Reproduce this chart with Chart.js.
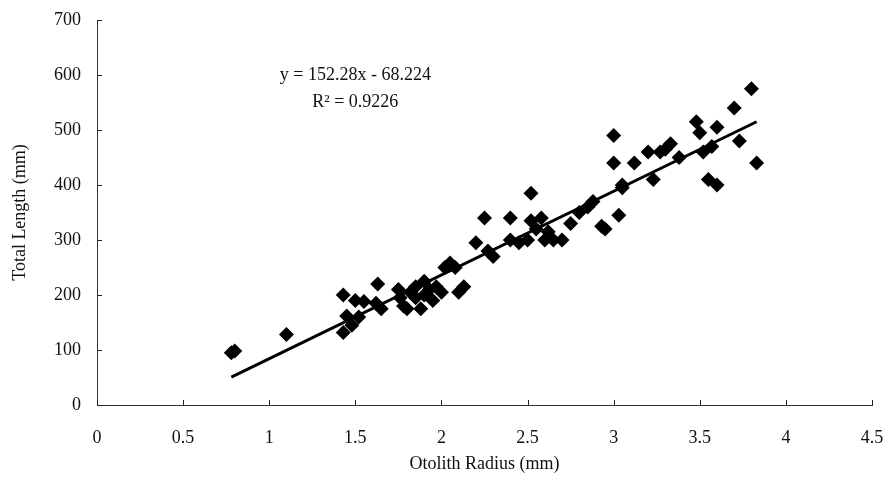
<!DOCTYPE html>
<html>
<head>
<meta charset="utf-8">
<script src="https://cdn.jsdelivr.net/npm/chart.js@4/dist/chart.umd.min.js"></script>
<style>
  html, body { margin: 0; padding: 0; background: #fff; }
  #wrap { width: 889px; height: 482px; }
</style>
</head>
<body>
<div id="wrap"><canvas id="otolithChart" width="889" height="482"></canvas></div>
<script>
// Otolith radius (mm) vs total length (mm)
const radius = [0.78, 0.80, 1.10, 1.43, 1.45, 1.43, 1.48, 1.50, 1.52, 1.55, 1.62, 1.63, 1.65,
    1.75, 1.76, 1.78, 1.80, 1.82, 1.85, 1.85, 1.88, 1.90, 1.90, 1.93, 1.95, 1.97, 2.00,
    2.02, 2.05, 2.10, 2.13, 2.08, 2.20, 2.25, 2.27, 2.30, 2.40, 2.40, 2.45, 2.50, 2.52,
    2.52, 2.55, 2.58, 2.60, 2.62, 2.65, 2.70, 2.75, 2.80, 2.85, 2.88, 2.93, 2.95, 3.00,
    3.00, 3.03, 3.05, 3.05, 3.12, 3.20, 3.23, 3.27, 3.30, 3.33, 3.38, 3.48, 3.50, 3.52,
    3.55, 3.57, 3.60, 3.60, 3.70, 3.73, 3.80, 3.83];
const totalLength = [95, 98, 128, 200, 162, 132, 145, 190, 160, 188, 185, 220, 175,
    210, 195, 180, 175, 205, 215, 195, 175, 225, 200, 210, 190, 215, 205,
    250, 258, 205, 215, 250, 295, 340, 280, 270, 340, 300, 295, 300, 385,
    335, 320, 340, 300, 315, 300, 300, 330, 350, 360, 370, 325, 320, 440,
    490, 345, 395, 400, 440, 460, 410, 460, 465, 475, 450, 515, 495, 460,
    410, 470, 400, 505, 540, 480, 575, 440];

// Linear trend as printed on the figure
const slope = 152.28;
const intercept = -68.224;
const trendX = [0.78, 3.83];
const equationLines = ['y = 152.28x - 68.224', 'R² = 0.9226'];

const xTicks = [0, 0.5, 1, 1.5, 2, 2.5, 3, 3.5, 4, 4.5];
const yTicks = [0, 100, 200, 300, 400, 500, 600, 700];

const points = radius.map((r, i) => ({ x: r, y: totalLength[i] }));
const trend = trendX.map(x => ({ x: x, y: slope * x + intercept }));

const serif = '"Liberation Serif", "DejaVu Serif", serif';

// inward tick marks + equation text
const extras = {
    id: 'extras',
    afterDraw(chart) {
        const ctx = chart.ctx;
        const xs = chart.scales.x, ys = chart.scales.y;
        const area = chart.chartArea;
        ctx.save();
        ctx.strokeStyle = '#222';
        ctx.lineWidth = 1;
        ctx.beginPath();
        xTicks.forEach(v => {
            const px = Math.round(xs.getPixelForValue(v)) + 0.5;
            ctx.moveTo(px, area.bottom);
            ctx.lineTo(px, area.bottom - 5);
        });
        yTicks.forEach(v => {
            const py = Math.round(ys.getPixelForValue(v)) + 0.5;
            ctx.moveTo(area.left, py);
            ctx.lineTo(area.left + 5, py);
        });
        ctx.stroke();

        ctx.fillStyle = '#111';
        ctx.font = '18px ' + serif;
        ctx.textAlign = 'center';
        ctx.textBaseline = 'middle';
        const cx = xs.getPixelForValue(1.5);
        ctx.fillText(equationLines[0], cx, ys.getPixelForValue(600));
        ctx.fillText(equationLines[1], cx, ys.getPixelForValue(550));
        ctx.restore();
    }
};

new Chart(document.getElementById('otolithChart'), {
    type: 'scatter',
    data: {
        datasets: [{
            label: 'Observed',
            data: points,
            pointStyle: 'rectRot',
            pointRadius: 7.5,
            backgroundColor: '#000',
            borderColor: '#000',
            borderWidth: 0
        }, {
            label: 'Linear',
            type: 'line',
            data: trend,
            borderColor: '#000',
            borderWidth: 3,
            pointRadius: 0,
            fill: false
        }]
    },
    options: {
        responsive: false,
        animation: false,
        layout: { padding: { left: 5, right: 17, top: 20, bottom: 3 } },
        plugins: {
            legend: { display: false },
            tooltip: { enabled: false }
        },
        scales: {
            x: {
                type: 'linear',
                min: 0,
                max: 4.5,
                afterBuildTicks: s => { s.ticks = xTicks.map(v => ({ value: v })); },
                afterFit: s => {
                    s.height = 74;
                    s.paddingLeft = 0;
                    s.paddingRight = 0;
                },
                grid: { display: false, drawTicks: false },
                border: { display: true, color: '#333', width: 1 },
                ticks: {
                    color: '#111',
                    font: { family: serif, size: 18 },
                    padding: 22,
                    callback: v => String(v)
                },
                title: {
                    display: true,
                    text: 'Otolith Radius (mm)',
                    color: '#111',
                    font: { family: serif, size: 18 },
                    padding: { top: 10 }
                }
            },
            y: {
                type: 'linear',
                min: 0,
                max: 700,
                afterBuildTicks: s => { s.ticks = yTicks.map(v => ({ value: v })); },
                afterFit: s => {
                    s.width = 92;
                    s.paddingTop = 0;
                    s.paddingBottom = 0;
                },
                grid: { display: false, drawTicks: false },
                border: { display: true, color: '#333', width: 1 },
                ticks: {
                    color: '#111',
                    font: { family: serif, size: 18 },
                    padding: 16,
                    callback: v => String(v)
                },
                title: {
                    display: true,
                    text: 'Total Length (mm)',
                    color: '#111',
                    font: { family: serif, size: 18 },
                    padding: { bottom: 6 }
                }
            }
        }
    },
    plugins: [extras]
});
</script>
</body>
</html>
